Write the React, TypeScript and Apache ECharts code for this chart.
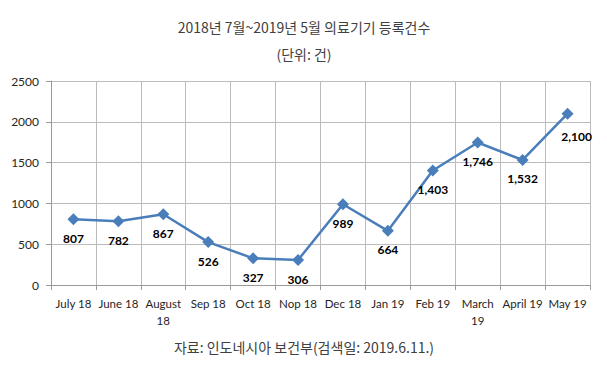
import React, { useEffect, useRef } from "react";
import * as echarts from "echarts";

const categories = [
  "July 18", "June 18", "August 18", "Sep 18", "Oct 18", "Nop 18",
  "Dec 18", "Jan 19", "Feb 19", "March 19", "April 19", "May 19",
];
const registrations = [807, 782, 867, 526, 327, 306, 989, 664, 1403, 1746, 1532, 2100];
const titleText = "2018년 7월~2019년 5월 의료기기 등록건수";
const unitText = "(단위: 건)";
const sourceText = "자료: 인도네시아 보건부(검색일: 2019.6.11.)";

const wrapLabels: Record<string, string> = {
  "August 18": "August\n18",
  "March 19": "March\n19",
};

export default function App() {
  const ref = useRef<HTMLDivElement>(null);
  useEffect(() => {
    document.body.style.margin = "0";
    if (!ref.current) return;
    const chart = echarts.init(ref.current, undefined, { renderer: "svg" });
    const korFont = "'Noto Sans CJK KR', 'Noto Sans', sans-serif";
    const latin = "Lato, 'Noto Sans', sans-serif";
    const lastIdx = registrations.length - 1;
    chart.setOption({
      animation: false,
      backgroundColor: "#ffffff",
      graphic: [
        { type: "text", x: 304, y: 27, style: { text: titleText, fontSize: 14, fontFamily: korFont, fill: "#404040", align: "center", verticalAlign: "middle" } },
        { type: "text", x: 304, y: 54, style: { text: unitText, fontSize: 14, fontFamily: korFont, fill: "#404040", align: "center", verticalAlign: "middle" } },
        { type: "text", x: 304, y: 347, style: { text: sourceText, fontSize: 14, fontFamily: korFont, fill: "#404040", align: "center", verticalAlign: "middle" } },
      ],
      grid: { left: 51, right: 17, top: 81, bottom: 84, containLabel: false },
      xAxis: {
        type: "category",
        data: categories,
        boundaryGap: true,
        axisLine: { show: true, lineStyle: { color: "#9a9a9a", width: 1 } },
        axisTick: { show: true, length: 5, alignWithLabel: false, lineStyle: { color: "#9a9a9a" } },
        splitLine: { show: true, lineStyle: { color: "#bcbcbc", width: 1 } },
        axisLabel: {
          interval: 0,
          margin: 10,
          fontSize: 11.5,
          lineHeight: 17,
          fontFamily: latin,
          color: "#262626",
          formatter: (v: string) => wrapLabels[v] ?? v,
        },
      },
      yAxis: {
        type: "value",
        min: 0,
        max: 2500,
        interval: 500,
        axisLine: { show: true, lineStyle: { color: "#9a9a9a", width: 1 } },
        axisTick: { show: true, length: 5, lineStyle: { color: "#9a9a9a" } },
        splitLine: { show: true, lineStyle: { color: "#bcbcbc", width: 1 } },
        axisLabel: { margin: 12, fontSize: 12, fontFamily: latin, color: "#262626", formatter: (v: number) => String(v) },
      },
      series: [
        {
          type: "line",
          data: registrations.map((v, i) =>
            i === lastIdx
              ? { value: v, label: { offset: [9, 4] } }
              : v
          ),
          symbol: "diamond",
          symbolSize: 12,
          lineStyle: { color: "#4a7ebb", width: 2.5 },
          itemStyle: { color: "#4a7ebb" },
          label: {
            show: true,
            position: "bottom",
            distance: 7,
            fontSize: 12,
            fontWeight: "bold",
            fontFamily: latin,
            color: "#000000",
            formatter: (p: any) => Number(p.value).toLocaleString("en-US"),
          },
        },
      ],
    });
    return () => chart.dispose();
  }, []);
  return <div ref={ref} style={{ width: 607, height: 369 }} />;
}
